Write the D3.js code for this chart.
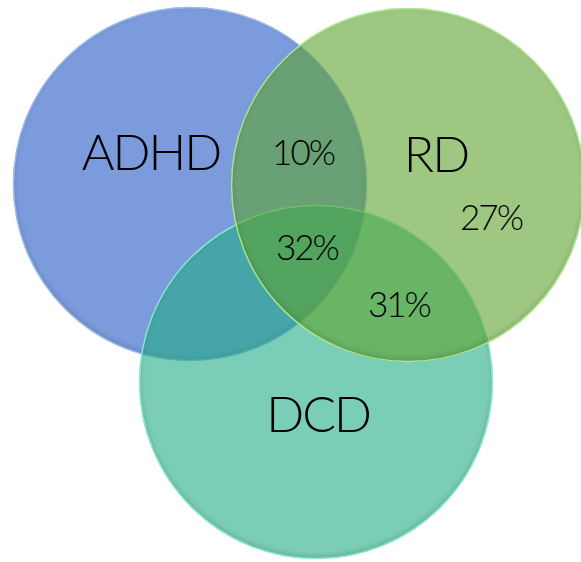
<!DOCTYPE html>
<html>
<head>
<meta charset="utf-8">
<script src="https://cdn.jsdelivr.net/npm/d3@7"></script>
<style>
  html, body { margin: 0; padding: 0; background: #ffffff; }
  svg { display: block; }
  text { font-family: Lato, "Noto Sans", sans-serif; fill: #000; font-weight: 300; }
</style>
</head>
<body>
<svg id="chart" width="581" height="562"></svg>
<script>
// Sets of the diagram, in drawing order (bottom to top)
const setNames   = ["ADHD", "DCD", "RD"];
const setColors  = ["#2359c5", "#21ac85", "#5da32f"];
const setEdges   = ["#9fbcf0", "#8ff0d0", "#b0ec98"];
// Circle centres in units of one radius, ADHD at the origin
const setCx      = [0, 0.712, 1.232];
const setCy      = [0, 1.119, 0.006];
const setLabelX  = [-0.226, 0.718, 1.384];
const setLabelY  = [-0.079, 1.401, -0.068];

// Overlap shares and where each sits
const overlapLabels = ["10%", "27%", "32%", "31%"];
const overlapX      = [0.633, 1.695, 0.655, 1.175];
const overlapY      = [-0.107, 0.260, 0.429, 0.751];

const svg = d3.select("#chart");
const R = 177;
const x = d3.scaleLinear().domain([0, 1]).range([190, 190 + R]);
const y = d3.scaleLinear().domain([0, 1]).range([184, 184 + R]);

const sets = setNames.map((name, i) => ({
  name, color: setColors[i], edge: setEdges[i],
  cx: setCx[i], cy: setCy[i], lx: setLabelX[i], ly: setLabelY[i]
}));

const defs = svg.append("defs");
defs.append("filter").attr("id", "soft")
  .attr("x", "-20%").attr("y", "-20%").attr("width", "140%").attr("height", "140%")
  .append("feGaussianBlur").attr("stdDeviation", 2.5);

sets.forEach((d, i) => {
  defs.append("clipPath").attr("id", "clip" + i)
    .append("circle").attr("cx", x(d.cx)).attr("cy", y(d.cy)).attr("r", R);
});

const g = svg.append("g");
sets.forEach((d, i) => {
  const grp = g.append("g");
  grp.append("circle")
    .attr("cx", x(d.cx)).attr("cy", y(d.cy)).attr("r", R)
    .attr("fill", d.color).attr("fill-opacity", 0.6);
  // soft inner shade along the rim, heavier at the bottom
  grp.append("g").attr("clip-path", `url(#clip${i})`)
    .append("circle")
    .attr("cx", x(d.cx)).attr("cy", y(d.cy) - 2).attr("r", R + 2)
    .attr("fill", "none").attr("stroke", "#000").attr("stroke-opacity", 0.14)
    .attr("stroke-width", 7).attr("filter", "url(#soft)");
  grp.append("circle")
    .attr("cx", x(d.cx)).attr("cy", y(d.cy)).attr("r", R - 0.5)
    .attr("fill", "none").attr("stroke", d.edge).attr("stroke-opacity", 0.9)
    .attr("stroke-width", 1.5);
});

svg.append("g").selectAll("text.set")
  .data(sets).join("text")
  .attr("class", "set")
  .attr("x", d => x(d.lx) + 1).attr("y", d => y(d.ly))
  .attr("text-anchor", "middle")
  .attr("font-size", 50)
  .attr("letter-spacing", -2)
  .text(d => d.name);

const overlaps = overlapLabels.map((t, i) => ({ t, x: overlapX[i], y: overlapY[i] }));
svg.append("g").selectAll("text.ov")
  .data(overlaps).join("text")
  .attr("class", "ov")
  .attr("x", d => x(d.x) + 1).attr("y", d => y(d.y))
  .attr("text-anchor", "middle")
  .attr("font-size", 35)
  .attr("letter-spacing", -2)
  .text(d => d.t);
</script>
</body>
</html>
